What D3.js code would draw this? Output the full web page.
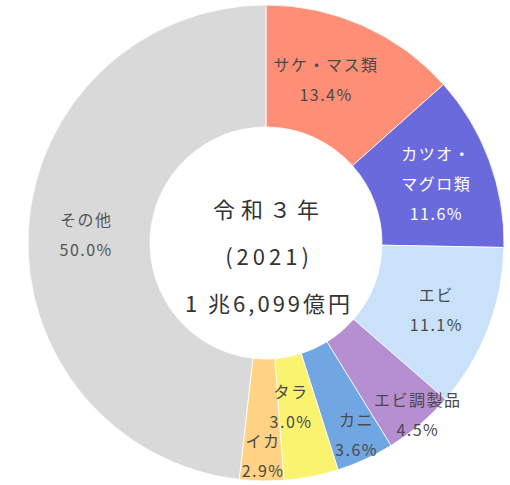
<!DOCTYPE html>
<html><head><meta charset="utf-8">
<script src="https://cdn.jsdelivr.net/npm/d3@7"></script>
<style>html,body{margin:0;padding:0;background:#fff;}svg{display:block;}</style>
</head><body>
<svg id="chart" width="510" height="485"></svg>
<script>
// ---- data ----
const categories = ["サケ・マス類", "カツオ・マグロ類", "エビ", "エビ調製品", "カニ", "タラ", "イカ", "その他"];
// percentages printed on the chart
const shares = [13.4, 11.6, 11.1, 4.5, 3.6, 3.0, 2.9, 50.0];
// slice sizes as actually drawn in the ring (read from the slice boundaries)
const drawnShares = [13.4, 11.9, 11.1, 4.8, 3.9, 3.7, 3.0, 48.2];
const labelLines = [["サケ・マス類"], ["カツオ・", "マグロ類"], ["エビ"], ["エビ調製品"], ["カニ"], ["タラ"], ["イカ"], ["その他"]];
const centerLines = ["令和３年", "(2021)", "1 兆6,099億円"];

// ---- styles / layout ----
const colors = ["#FF8E76", "#6A6ADC", "#C9E2FA", "#B68ED2", "#70A6E1", "#FAF36F", "#FFD383", "#D9D9D9"];
const textColors = ["#4a4a4a", "#ffffff", "#4a4a4a", "#4a4a4a", "#4a4a4a", "#4a4a4a", "#4a4a4a", "#555555"];
// label placement: [radius, angle offset in degrees from slice mid angle]
const labelPlace = [[173, -3.8], [180, 1.5], [183, 0.4], [230, -1.0], [213, -0.5], [166, 2.3], [213, -0.3], [180, -0.7]];
const centerSpacing = [6, 4, 3];

const cx = 266, cy = 243, rOuter = 238, rInner = 116;
const svg = d3.select("#chart");
const g = svg.append("g").attr("transform", `translate(${cx},${cy})`);

const pie = d3.pie().sort(null).value(d => d.v);
const data = drawnShares.map((v, i) => ({v, i}));
const arcs = pie(data);
const arc = d3.arc().innerRadius(rInner).outerRadius(rOuter);

g.selectAll("path.slice").data(arcs).join("path")
  .attr("class", "slice")
  .attr("d", arc)
  .attr("fill", d => colors[d.data.i])
  .attr("stroke", "#ffffff")
  .attr("stroke-width", 0.8);

const fontFam = "'Noto Sans CJK JP','Noto Sans',sans-serif";
const lineH = 30;
arcs.forEach(a => {
  const i = a.data.i;
  const mid = (a.startAngle + a.endAngle) / 2 + labelPlace[i][1] * Math.PI / 180;
  const r = labelPlace[i][0];
  const x = r * Math.sin(mid), y = -r * Math.cos(mid);
  const lines = labelLines[i].concat([d3.format(".1f")(shares[i]) + "%"]);
  const t = g.append("text")
    .attr("text-anchor", "middle")
    .attr("font-family", fontFam)
    .attr("font-size", 16)
    .attr("letter-spacing", 1.5)
    .attr("fill", textColors[i]);
  lines.forEach((ln, k) => {
    t.append("tspan")
      .attr("x", x)
      .attr("y", y + (k - (lines.length - 1) / 2) * lineH)
      .attr("dy", "0.35em")
      .text(ln);
  });
});

centerLines.forEach((ln, k) => {
  g.append("text")
    .attr("text-anchor", "middle")
    .attr("font-family", fontFam)
    .attr("font-size", 22)
    .attr("letter-spacing", centerSpacing[k])
    .attr("fill", "#333333")
    .attr("x", 3)
    .attr("y", (k - 1) * 47 + 14)
    .attr("dy", "0.35em")
    .text(ln);
});
</script>
</body></html>
